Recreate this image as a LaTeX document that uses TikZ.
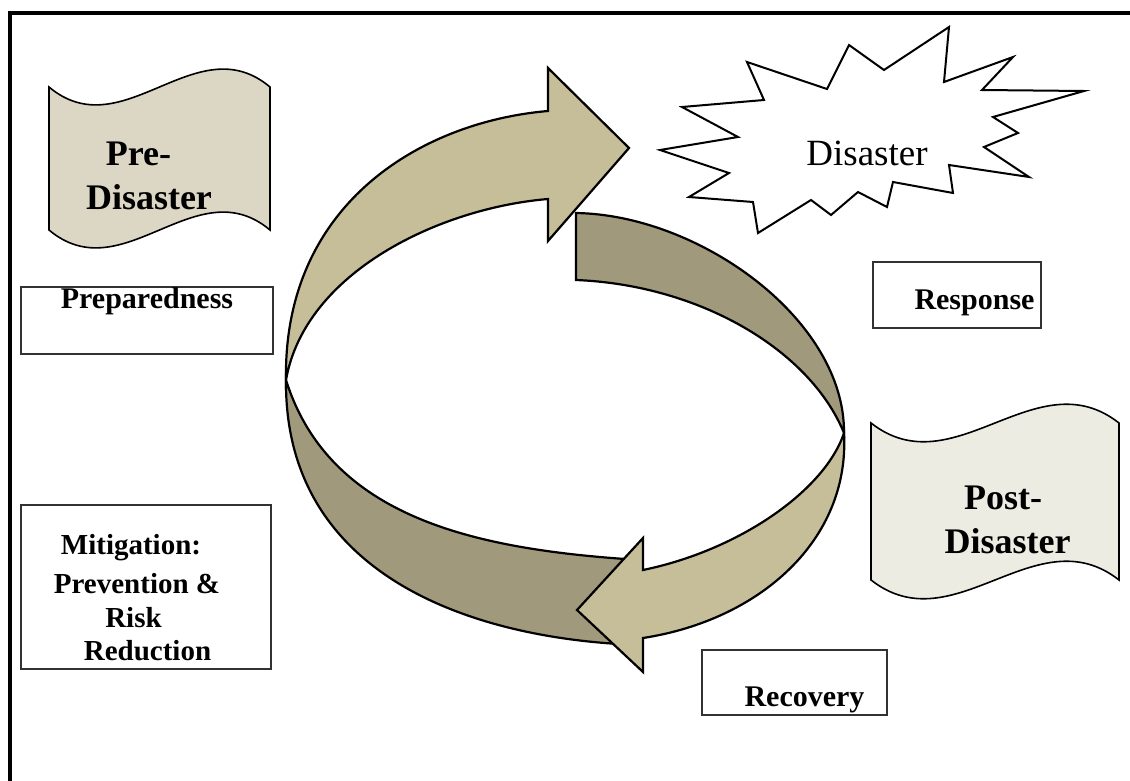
\documentclass[tikz,border=0pt]{standalone}
\usepackage{fontspec}
\setmainfont{Liberation Serif}
\definecolor{arrowlight}{RGB}{198,190,153}
\definecolor{arrowdark}{RGB}{160,153,123}
\definecolor{prefill}{RGB}{220,215,196}
\definecolor{postfill}{RGB}{237,236,226}
\definecolor{boxline}{RGB}{50,50,50}
\begin{document}
\begin{tikzpicture}[x=1pt,y=-1pt,
  lightband/.style={fill=arrowlight, draw=black, line width=2.2pt, line join=miter},
  darkband/.style={fill=arrowdark, draw=black, line width=2.2pt, line join=miter},
  banner/.style={draw=black, line width=1.6pt},
  labelbox/.style={draw=boxline, line width=1.4pt, rectangle, inner sep=0pt},
  bigtxt/.style={font=\fontsize{36}{40}\selectfont\bfseries, anchor=base, inner sep=0pt},
  boxtxt/.style={font=\fontsize{30}{34}\selectfont\bfseries, anchor=base, inner sep=0pt},
  mittxt/.style={font=\fontsize{29}{33}\selectfont\bfseries, anchor=base, inner sep=0pt},
  burst/.style={draw=black, fill=white, line width=2pt, line join=miter}
]
\useasboundingbox (0,0) rectangle (1130,781);
\fill[white] (0,0) rectangle (1130,781);

% frame
\draw[line width=4.5pt] (10,781) -- (10,13) -- (1130,13);

% cycle arrows
\coordinate (m1) at (286,380);
\coordinate (m2) at (844,433);
% dark lower-left band
\draw[darkband] (m1) .. controls (284,580) and (480,640) .. (640,645)
  -- (640,560) .. controls (480,550) and (330,520) .. (m1) -- cycle;
% dark upper-right band
\draw[darkband] (576,213) .. controls (700,215) and (845,320) .. (m2)
  .. controls (810,350) and (700,285) .. (576,280) -- cycle;
% light upper arrow
\draw[lightband] (m1) .. controls (283,205) and (420,122) .. (548,111)
  -- (548,68) -- (629,148) -- (548,241) -- (548,199)
  .. controls (440,208) and (305,272) .. (m1) -- cycle;
% light lower arrow
\draw[lightband] (m2) .. controls (850,540) and (760,620) .. (643,638)
  -- (643,672) -- (577,610) -- (643,538) -- (643,570)
  .. controls (740,550) and (825,490) .. (m2) -- cycle;

% banners
\draw[banner, fill=prefill] (49,87) .. controls (123,149) and (196,25) .. (270,87)
  -- (270,230) .. controls (196,168) and (123,292) .. (49,230) -- cycle;
\node[bigtxt] (pre1) at (138.5,166) {Pre-};
\node[bigtxt] (pre2) at (149,209) {Disaster};

\draw[banner, fill=postfill] (871,423) .. controls (954,488) and (1036,358) .. (1119,423)
  -- (1119,580) .. controls (1036,515) and (954,645) .. (871,580) -- cycle;
\node[bigtxt] (post1) at (1003,509) {Post-};
\node[bigtxt] (post2) at (1007.5,553) {Disaster};

% starburst
\draw[burst] (660,150) -- (738,137) -- (682,107) -- (764,100) -- (747,62)
  -- (827,89) -- (849,45) -- (884,70) -- (949,27) -- (944,82) -- (1013,57)
  -- (982,90) -- (1084,91) -- (993,117) -- (1018,133) -- (984,147)
  -- (1029,177) -- (949,165) -- (953,193) -- (893,182) -- (887,207)
  -- (858,192) -- (831,215) -- (811,200) -- (758,233) -- (753,202)
  -- (689,197) -- (729,173) -- cycle;
\node[font=\fontsize{37}{41}\selectfont, anchor=base, inner sep=0pt] (dis) at (867,166) {Disaster};

% boxes
\node[labelbox, minimum width=252pt, minimum height=67pt] (prep) at (147,320.5) {};
\node[boxtxt] (preptxt) at (147,308) {Preparedness};

\node[labelbox, minimum width=250pt, minimum height=164pt] (mitig) at (146,587) {};
\node[mittxt] (mit1) at (131,554) {Mitigation:};
\node[mittxt] (mit2) at (137,593) {Prevention \&};
\node[mittxt] (mit3) at (133.5,627) {Risk};
\node[mittxt] (mit4) at (147.5,660) {Reduction};

\node[labelbox, minimum width=168pt, minimum height=66pt] (resp) at (957,295) {};
\node[boxtxt] (resptxt) at (974.5,309) {Response};

\node[labelbox, minimum width=185pt, minimum height=65pt] (recov) at (794.5,682.5) {};
\node[boxtxt] (recovtxt) at (804.5,706) {Recovery};
\end{tikzpicture}
\end{document}
